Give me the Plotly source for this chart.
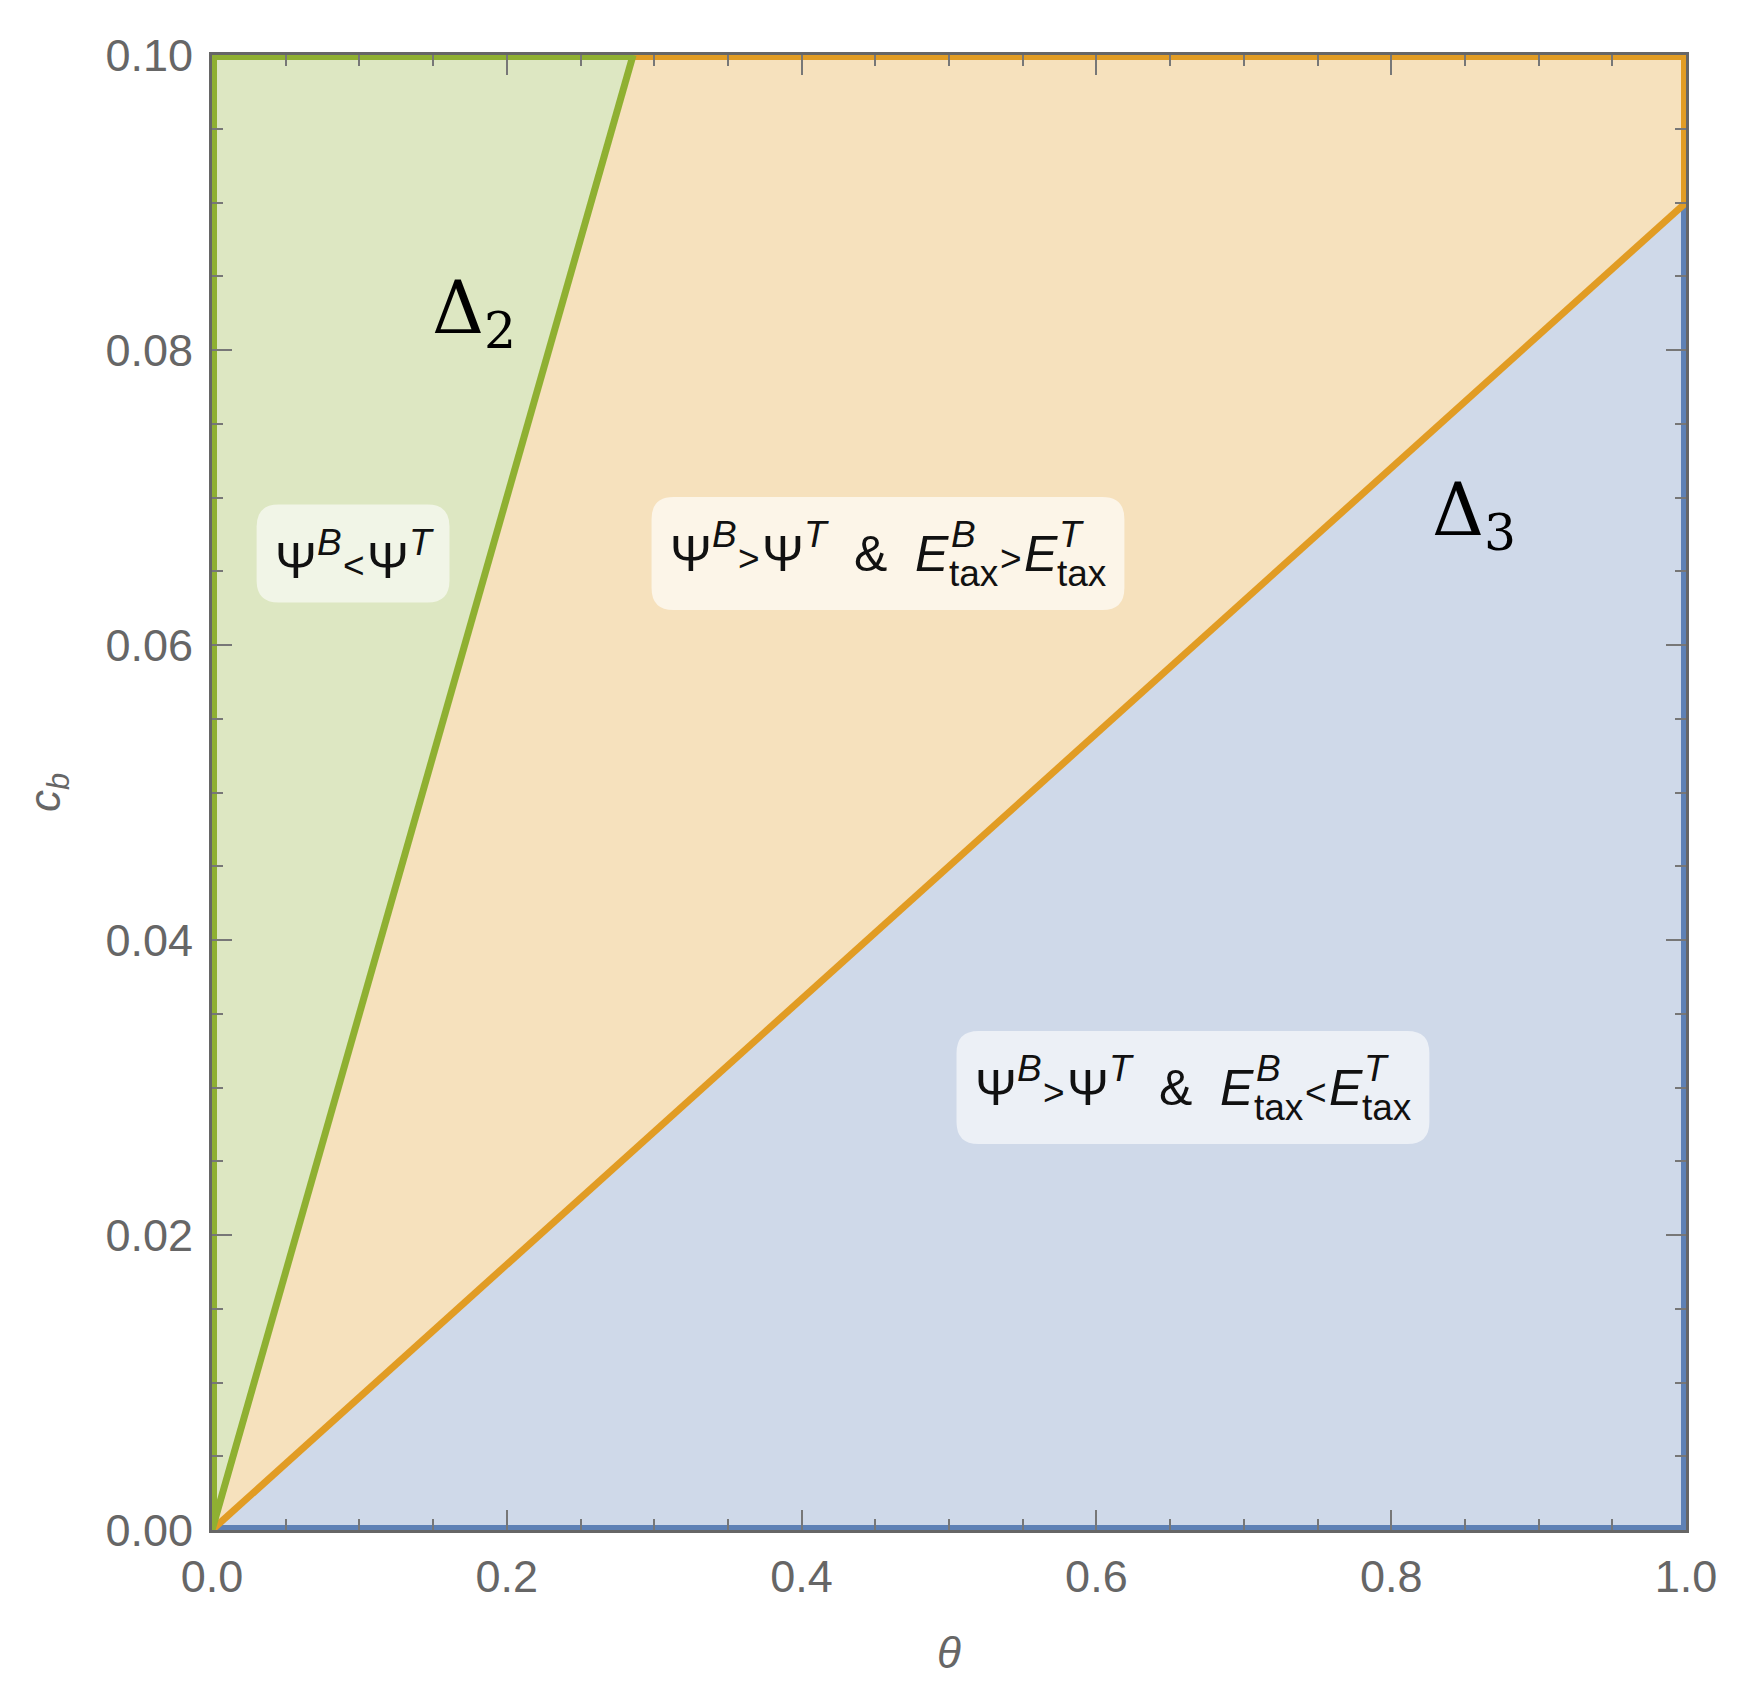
import plotly.graph_objects as go

# ---- data ----
theta_range = [0.0, 1.0]
cb_range = [0.0, 0.10]
delta2_theta = [0.0, 0.2857]   # Δ2 boundary line
delta2_cb = [0.0, 0.10]
delta3_theta = [0.0, 1.0]      # Δ3 boundary line
delta3_cb = [0.0, 0.09]
x_ticks = [0.0, 0.2, 0.4, 0.6, 0.8, 1.0]
y_ticks = [0.00, 0.02, 0.04, 0.06, 0.08, 0.10]

# region label anchor points (theta, c_b)
label_theta = [0.0957, 0.4586, 0.6655]
label_cb = [0.0662, 0.0662, 0.0300]
# curve label anchor points (left edge of Δ)
curve_theta = [0.148, 0.826]
curve_cb = [0.0825, 0.0688]
curve_text = ["Δ<sub>2</sub>", "Δ<sub>3</sub>"]

GREEN, ORANGE, BLUE = "#8FB032", "#E19C24", "#5E81B5"
GREEN_F, ORANGE_F, BLUE_F = "#DDE7C2", "#F6E1BD", "#CFD9E9"
BOX_F = ["rgba(255,255,255,0.6)", "rgba(255,255,255,0.65)", "rgba(255,255,255,0.6)"]

# label token sequences
LBL1 = [("base", "Ψ", False), ("stack", "B", None), ("rel", "&lt;"), ("base", "Ψ", False), ("stack", "T", None)]
LBL2 = [("base", "Ψ", False), ("stack", "B", None), ("rel", "&gt;"), ("base", "Ψ", False), ("stack", "T", None),
        ("gap", 2), ("base", "&amp;", False), ("gap", 2),
        ("base", "E", True), ("stack", "B", "tax"), ("rel", "&gt;"), ("base", "E", True), ("stack", "T", "tax")]
LBL3 = [("base", "Ψ", False), ("stack", "B", None), ("rel", "&gt;"), ("base", "Ψ", False), ("stack", "T", None),
        ("gap", 2), ("base", "&amp;", False), ("gap", 2),
        ("base", "E", True), ("stack", "B", "tax"), ("rel", "&lt;"), ("base", "E", True), ("stack", "T", "tax")]
labels = [LBL1, LBL2, LBL3]

fig = go.Figure()

# ---- regions ----
x0, x1 = theta_range
y0, y1 = cb_range
d2x, d2y = delta2_theta[1], delta2_cb[1]
d3x, d3y = delta3_theta[1], delta3_cb[1]
green_x = [x0, x0, d2x, x0]
green_y = [y0, y1, d2y, y0]
orange_x = [x0, d2x, x1, x1, x0]
orange_y = [y0, d2y, y1, d3y, y0]
blue_x = [x0, d3x, x1, x0]
blue_y = [y0, d3y, y0, y0]

for xs, ys, fc in [(blue_x, blue_y, BLUE_F), (orange_x, orange_y, ORANGE_F), (green_x, green_y, GREEN_F)]:
    fig.add_trace(go.Scatter(x=xs, y=ys, fill="toself", fillcolor=fc, mode="lines",
                             line=dict(width=0), hoverinfo="skip", showlegend=False))

# coloured region borders along the frame
for xs, ys, lc in [([d2x, x0, x0], [d2y, y1, y0], GREEN),
                   ([d2x, x1, x1], [d2y, y1, d3y], ORANGE),
                   ([x1, x1, x0], [d3y, y0, y0], BLUE)]:
    fig.add_trace(go.Scatter(x=xs, y=ys, mode="lines", line=dict(color=lc, width=10),
                             hoverinfo="skip", showlegend=False))

fig.add_trace(go.Scatter(x=delta3_theta, y=delta3_cb, mode="lines",
                         line=dict(color=ORANGE, width=7), showlegend=False))
fig.add_trace(go.Scatter(x=delta2_theta, y=delta2_cb, mode="lines",
                         line=dict(color=GREEN, width=7), showlegend=False))

# ---- text layout helper (Arial / Liberation Sans metrics) ----
FONT = "Liberation Sans, Arial"
F, F2 = 50, 37
SUP_RAISE, SUB_DROP = 0.47 * F, 0.30 * F
DESC = 0.212
CW = {"Ψ": 0.80, "B": 0.667, "T": 0.611, "E": 0.667, "&lt;": 0.584, "&gt;": 0.584,
      "&amp;": 0.667, "tax": 1.334}


def tok_width(t):
    k = t[0]
    if k == "base":
        return CW[t[1]] * F
    if k == "rel":
        return CW[t[1]] * F2 + 4
    if k == "gap":
        return t[1] * 0.278 * F
    w = CW[t[1]] * F2 + 2
    if t[2]:
        w = max(w, CW[t[2]] * F2)
    return w


def add_label(ax, ay, toks, bg):
    W = sum(tok_width(t) for t in toks)
    has_sub = any(t[0] == "stack" and t[2] for t in toks)
    ink_top = SUP_RAISE + 0.716 * F2
    ink_bot = SUB_DROP if has_sub else 0.0
    base = (ink_top - ink_bot) / 2.0       # baseline below anchor (px)
    bw, bh, r = W + 36, ink_top + ink_bot + 48, 22
    hw, hh = bw / 2, bh / 2
    path = (f"M {-hw + r},{-hh} L {hw - r},{-hh} Q {hw},{-hh} {hw},{-hh + r} "
            f"L {hw},{hh - r} Q {hw},{hh} {hw - r},{hh} L {-hw + r},{hh} "
            f"Q {-hw},{hh} {-hw},{hh - r} L {-hw},{-hh + r} Q {-hw},{-hh} {-hw + r},{-hh} Z")
    fig.add_shape(type="path", xref="x", yref="y", xsizemode="pixel", ysizemode="pixel",
                  xanchor=ax, yanchor=ay, path=path, fillcolor=bg, line=dict(width=0), layer="above")

    def put(text, xoff, drop, size, italic=False):
        txt = f"<i>{text}</i>" if italic else text
        fig.add_annotation(x=ax, y=ay, xref="x", yref="y", text=txt, showarrow=False,
                           xanchor="left", yanchor="bottom", borderpad=0, borderwidth=0,
                           xshift=xoff, yshift=-(drop + DESC * size),
                           font=dict(family=FONT, size=size, color="#111"))

    x = -W / 2
    for t in toks:
        k = t[0]
        if k == "base":
            put(t[1], x, base, F, t[2])
        elif k == "rel":
            put(t[1], x + 2, base, F2)
        elif k == "stack":
            put(t[1], x + 2, base - SUP_RAISE, F2, True)
            if t[2]:
                put(t[2], x, base + SUB_DROP, F2)
        x += tok_width(t)


for ax, ay, toks, bg in zip(label_theta, label_cb, labels, BOX_F):
    add_label(ax, ay, toks, bg)

for cx, cy, ct in zip(curve_theta, curve_cb, curve_text):
    fig.add_annotation(x=cx, y=cy, text=ct, showarrow=False, xanchor="left",
                       font=dict(family="DejaVu Serif, Liberation Serif", size=72, color="#000"))

# ---- axes ----
axis_common = dict(
    showline=True, linecolor="#666", linewidth=3, mirror="ticks",
    ticks="inside", ticklen=20, tickwidth=2, tickcolor="#777",
    showgrid=False, zeroline=False, automargin=False,
    tickfont=dict(family="Liberation Sans, Arial", size=45, color="#666"),
)
fig.update_xaxes(range=theta_range, tickvals=x_ticks, tickformat=".1f",
                 minor=dict(dtick=0.05, ticks="inside", ticklen=11, tickwidth=2, tickcolor="#777"),
                 title=dict(text="<i>θ</i>", font=dict(family="Liberation Sans, Arial", size=44, color="#666"), standoff=37),
                 ticklabelstandoff=5,
                 **axis_common)
fig.update_yaxes(range=cb_range, tickvals=y_ticks, tickformat=".2f",
                 minor=dict(dtick=0.005, ticks="inside", ticklen=11, tickwidth=2, tickcolor="#777"),
                 title=dict(text="<i>c</i><sub><i>b</i></sub>", font=dict(family="Liberation Sans, Arial", size=44, color="#666"), standoff=32),
                 ticklabelstandoff=7,
                 **axis_common)

# the page adds an 8px body margin, so the figure is offset accordingly
fig.update_layout(width=1734, height=1687, margin=dict(l=204, r=56, t=47, b=165),
                  plot_bgcolor="white", paper_bgcolor="white", showlegend=False)

fig.write_html("out.html")
